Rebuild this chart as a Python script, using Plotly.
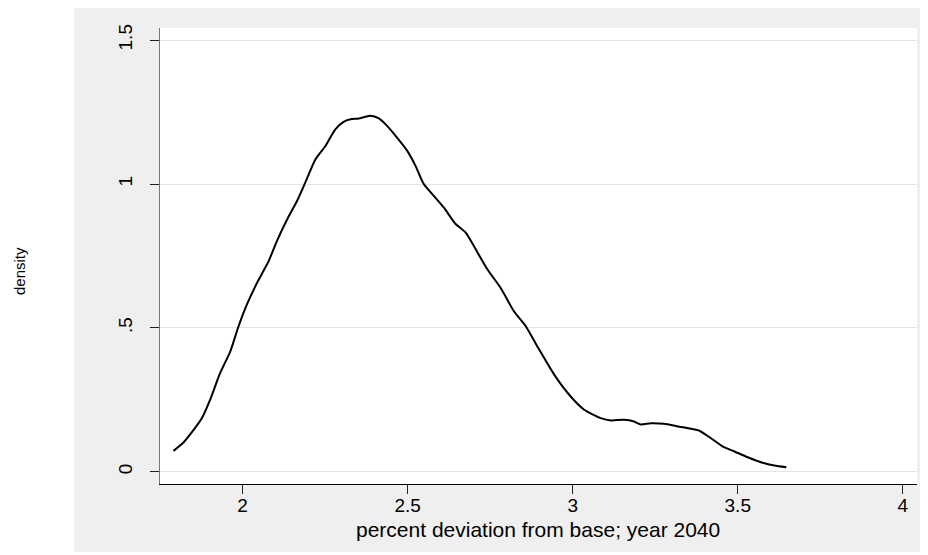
import plotly.graph_objects as go

# Kernel density curve
x_vals = [1.791, 1.821, 1.846, 1.877, 1.902, 1.932, 1.963, 1.988, 2.013, 2.044,
          2.079, 2.104, 2.135, 2.165, 2.190, 2.221, 2.251, 2.281, 2.306, 2.327,
          2.352, 2.387, 2.413, 2.438, 2.468, 2.499, 2.524, 2.549, 2.580, 2.610,
          2.645, 2.676, 2.701, 2.742, 2.782, 2.822, 2.858, 2.893, 2.944, 2.994,
          3.035, 3.085, 3.116, 3.156, 3.186, 3.206, 3.237, 3.277, 3.318, 3.358,
          3.384, 3.419, 3.455, 3.490, 3.530, 3.581, 3.611, 3.647]
density = [0.073, 0.102, 0.137, 0.187, 0.251, 0.343, 0.419, 0.506, 0.581, 0.657,
           0.732, 0.802, 0.877, 0.941, 1.005, 1.086, 1.132, 1.190, 1.216, 1.225,
           1.228, 1.237, 1.228, 1.202, 1.161, 1.115, 1.063, 1.000, 0.958, 0.918,
           0.862, 0.831, 0.784, 0.703, 0.639, 0.558, 0.506, 0.436, 0.338, 0.262,
           0.216, 0.187, 0.179, 0.181, 0.175, 0.165, 0.169, 0.167, 0.158, 0.150,
           0.143, 0.117, 0.088, 0.071, 0.051, 0.030, 0.022, 0.016]

x_ticks = [2, 2.5, 3, 3.5, 4]
x_tick_text = ["2", "2.5", "3", "3.5", "4"]
y_ticks = [0, 0.5, 1, 1.5]
y_tick_text = ["0", ".5", "1", "1.5"]

x_title = "percent deviation from base; year 2040"
y_title = "density"

FONT = "Liberation Sans, Arial, sans-serif"

fig = go.Figure()
fig.add_trace(go.Scatter(
    x=x_vals, y=density, mode="lines",
    line=dict(color="black", width=2, shape="spline", smoothing=0.6),
    showlegend=False, hoverinfo="skip"))

# page body adds an 8px margin, so the figure is laid out 8px up/left
OFF = 8
W, H = 928 - OFF, 555 - OFF
L, R, T, B = 160 - OFF, 917 - OFF, 28 - OFF, 484 - OFF
pw, ph = R - L, B - T

def px_x(p):
    return (p - OFF - L) / pw

def px_y(p):
    return (B - (p - OFF)) / ph

# gray outer panel and white plot region
fig.add_shape(type="rect", xref="paper", yref="paper",
              x0=px_x(74), x1=px_x(930), y0=px_y(552), y1=px_y(8),
              fillcolor="#efefef", line=dict(width=0), layer="below")
fig.add_shape(type="rect", xref="paper", yref="paper",
              x0=0, x1=1, y0=0, y1=1,
              fillcolor="white", line=dict(width=0), layer="below")

fig.add_annotation(text=y_title, xref="paper", yref="paper",
                   x=px_x(19), y=px_y(271), showarrow=False, textangle=-90,
                   font=dict(family=FONT, size=15, color="black"),
                   xanchor="center", yanchor="middle")

fig.add_annotation(text=x_title, xref="paper", yref="paper",
                   x=px_x(538), y=px_y(529), showarrow=False,
                   font=dict(family=FONT, size=21, color="black"),
                   xanchor="center", yanchor="middle")

fig.update_layout(
    width=W, height=H,
    margin=dict(l=L, r=W - R, t=T, b=H - B, pad=0),
    paper_bgcolor="white", plot_bgcolor="white",
    font=dict(family=FONT, size=19, color="black"),
    xaxis=dict(
        range=[1.750, 4.043], tickmode="array", tickvals=x_ticks, ticktext=x_tick_text,
        ticks="outside", ticklen=9, tickcolor="#222", tickwidth=1,
        showline=True, linecolor="black", linewidth=1.2,
        showgrid=False, zeroline=False,
        tickfont=dict(size=19), ticklabelstandoff=-5,
    ),
    yaxis=dict(
        range=[-0.042, 1.542], tickmode="array", tickvals=y_ticks, ticktext=y_tick_text,
        ticks="outside", ticklen=9, tickcolor="#222", tickwidth=1,
        showline=True, linecolor="#777", linewidth=1.2,
        showgrid=True, gridcolor="#e4e4e4", gridwidth=1.2,
        zeroline=False, tickangle=-90, ticklabelstandoff=10,
        tickfont=dict(size=19),
    ),
)

fig.write_html("out.html")
